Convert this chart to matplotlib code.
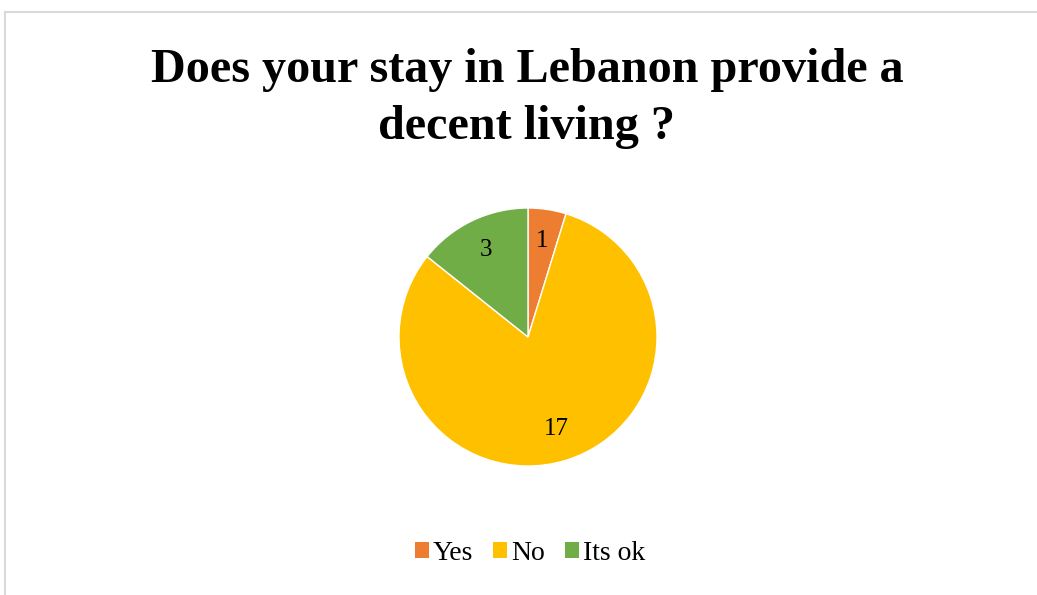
import matplotlib.pyplot as plt
from matplotlib.lines import Line2D
from matplotlib.patches import Patch

# Survey answers
categories = ["Yes", "No", "Its ok"]
counts = [1, 17, 3]
colors = ["#ED7D31", "#FFC000", "#70AD47"]
title_lines = ["Does your stay in Lebanon provide a", "decent living ?"]

plt.rcParams["font.family"] = ["Liberation Serif", "DejaVu Serif"]

W, H = 1037, 595
fig = plt.figure(figsize=(W / 100, H / 100), dpi=100)

# chart frame (top and left edges)
fig.add_artist(Line2D([4.5 / W, 1.0], [1 - 11.5 / H, 1 - 11.5 / H],
                      color="#d9d9d9", lw=1.5, transform=fig.transFigure))
fig.add_artist(Line2D([4.5 / W, 4.5 / W], [1 - 11.5 / H, 0],
                      color="#d9d9d9", lw=1.5, transform=fig.transFigure))

for line, base in zip(title_lines, [82, 139]):
    fig.text(527 / W, 1 - base / H, line, ha="center", va="baseline",
             fontsize=34.7, fontweight="bold")

r = 129
cx, cy = 528, 337
ax = fig.add_axes([(cx - r) / W, 1 - (cy + r) / H, 2 * r / W, 2 * r / H])
wedges, texts = ax.pie(counts, colors=colors, startangle=90, counterclock=False,
                       labels=[str(c) for c in counts], labeldistance=0.75,
                       wedgeprops=dict(edgecolor="white", linewidth=1),
                       textprops=dict(fontsize=18, ha="center", va="center"))
ax.set_xlim(-1, 1)
ax.set_ylim(-1, 1)
ax.set_aspect("equal")

handles = [Patch(facecolor=c, label=l) for c, l in zip(colors, categories)]
fig.legend(handles=handles, loc="center", bbox_to_anchor=(530 / W, 1 - 553 / H),
           ncol=3, frameon=False, fontsize=20, handlelength=0.5, handleheight=0.5,
           handletextpad=0.15, columnspacing=0.72, borderpad=0, borderaxespad=0)

fig.savefig("out.png", dpi=100, facecolor="white")
